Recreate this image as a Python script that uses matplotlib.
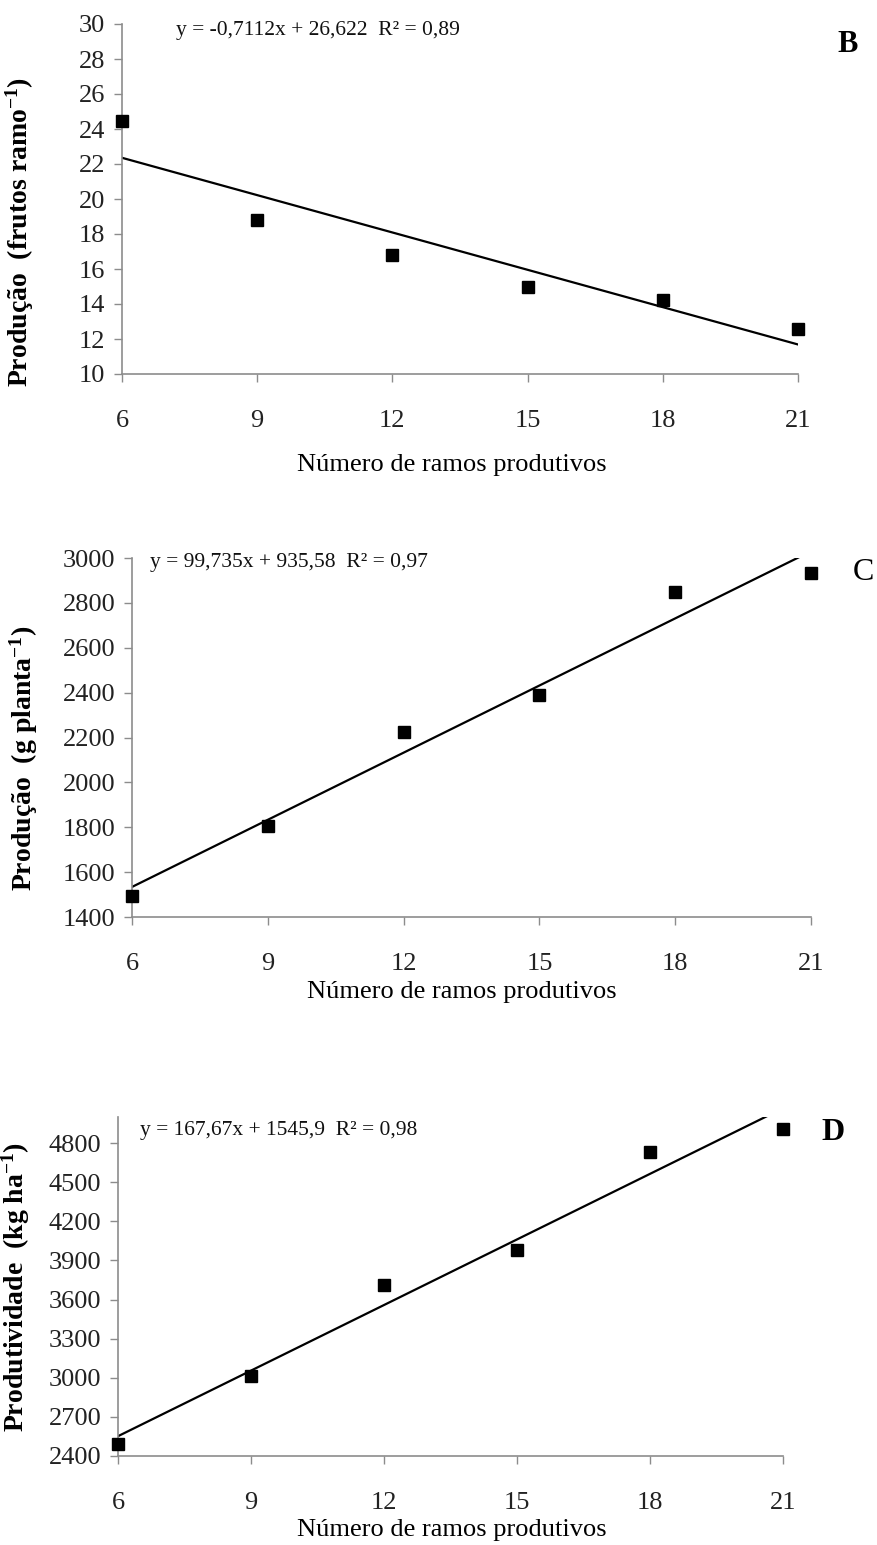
import numpy as np
import matplotlib
matplotlib.use('Agg')
import matplotlib.pyplot as plt

# shared x values (number of productive branches)
ramos = [6, 9, 12, 15, 18, 21]

# panel B - fruits per branch
frutos_ramo = [24.45, 18.8, 16.8, 15.0, 14.25, 12.55]
# panel C - g per plant
g_planta = [1495, 1805, 2225, 2390, 2848, 2933]
# panel D - kg per ha
kg_ha = [2490, 3012, 3712, 3980, 4731, 4907]

# trend line coefficients printed on the chart
coef_b = (-0.7112, 26.622)
coef_c = (99.735, 935.58)
coef_d = (167.67, 1545.9)

eq_b = 'y = -0,7112x + 26,622  R² = 0,89'
eq_c = 'y = 99,735x + 935,58  R² = 0,97'
eq_d = 'y = 167,67x + 1545,9  R² = 0,98'

plt.rcParams['font.family'] = ['Liberation Serif', 'DejaVu Serif']
plt.rcParams['mathtext.fontset'] = 'custom'
plt.rcParams['mathtext.rm'] = 'Liberation Serif'
plt.rcParams['mathtext.bf'] = 'Liberation Serif:bold'
plt.rcParams['mathtext.default'] = 'bf'

W, H = 878, 1545
fig = plt.figure(figsize=(W / 100, H / 100), dpi=100)
AXIS_GRAY = '#8c8c8c'


def px_axes(left, right, top, bottom):
    return fig.add_axes([left / W, 1 - bottom / H, (right - left) / W, (bottom - top) / H])


def draw_panel(ax, y, coef, ylim, yticks, eq, eq_pos):
    x0, x1 = ramos[0], ramos[-1]
    xs = np.array([x0, x1])
    ax.plot(xs, coef[0] * xs + coef[1], color='black', lw=1.6, zorder=2)
    ax.plot(ramos, y, 's', color='black', ms=9, zorder=3, clip_on=False)
    ax.set_xlim(x0, x1)
    ax.set_ylim(*ylim)
    ax.set_xticks(ramos)
    ax.set_yticks(yticks)
    for s in ['top', 'right']:
        ax.spines[s].set_visible(False)
    for s in ['left', 'bottom']:
        ax.spines[s].set_color(AXIS_GRAY)
        ax.spines[s].set_linewidth(1.2)
    ax.tick_params(axis='both', colors=AXIS_GRAY, length=6, width=1.0, labelcolor='#222222')
    ax.tick_params(axis='x', labelsize=19, pad=20)
    ax.tick_params(axis='y', labelsize=19, pad=6)
    ax.text(eq_pos[0], eq_pos[1], eq, transform=fig.transFigure, fontsize=15.5,
            va='center', ha='left', color='#111111')


def ylabel(x, y, text):
    fig.text(x / W, 1 - y / H, text, rotation=90, fontsize=20,
             fontweight='bold', ha='center', va='center')


# panel B
ax_b = px_axes(122, 798, 24, 374)
draw_panel(ax_b, frutos_ramo, coef_b, (10, 30), np.arange(10, 31, 2), eq_b, (176 / W, 1 - 30 / H))
fig.text(848 / W, 1 - 45 / H, 'B', fontsize=22, fontweight='bold', ha='center', va='center')
ylabel(20, 232, 'Produção  (frutos ramo$^{-1}$)')
fig.text(452 / W, 1 - 465 / H, 'Número de ramos produtivos', fontsize=19, ha='center', va='center')

# panel C
ax_c = px_axes(132, 811, 558, 917)
draw_panel(ax_c, g_planta, coef_c, (1400, 3000), np.arange(1400, 3001, 200), eq_c, (150 / W, 1 - 563 / H))
fig.text(863 / W, 1 - 572 / H, 'C', fontsize=23, ha='center', va='center')
ylabel(24, 758, 'Produção  (g planta$^{-1}$)')
fig.text(462 / W, 1 - 992 / H, 'Número de ramos produtivos', fontsize=19, ha='center', va='center')

# panel D
ax_d = px_axes(118, 783, 1117, 1456)
draw_panel(ax_d, kg_ha, coef_d, (2400, 5000), np.arange(2400, 4801, 300), eq_d, (140 / W, 1 - 1130 / H))
fig.text(833 / W, 1 - 1132 / H, 'D', fontsize=23, fontweight='bold', ha='center', va='center')
ylabel(16, 1287, 'Produtividade  (kg ha$^{-1}$)')
fig.text(452 / W, 1 - 1530 / H, 'Número de ramos produtivos', fontsize=19, ha='center', va='center')

fig.savefig('out.png', dpi=100)
